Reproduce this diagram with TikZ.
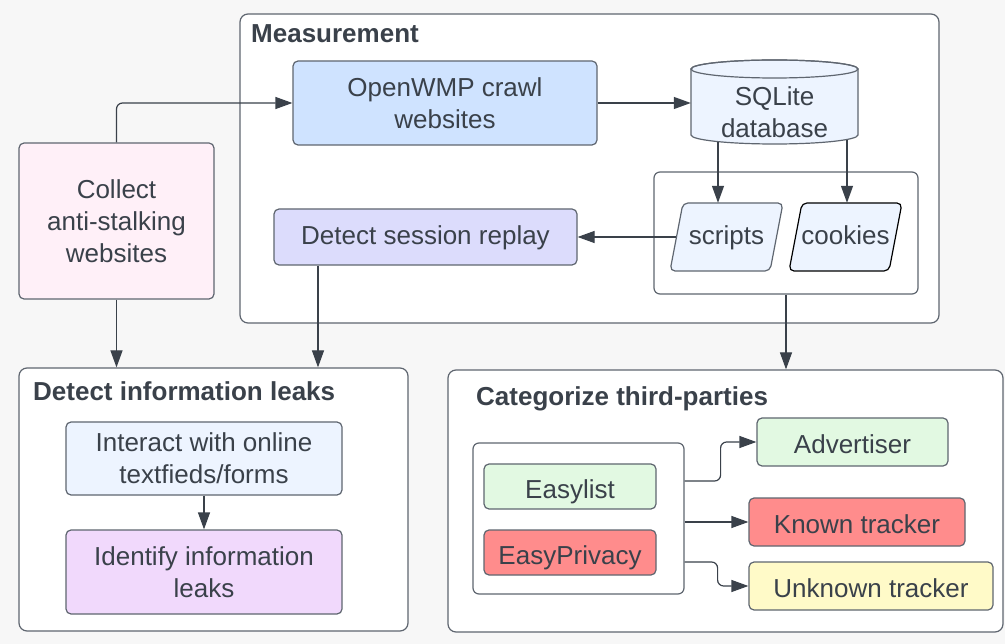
\documentclass[tikz,border=0pt]{standalone}
\usepackage{fontspec}
\setmainfont{Liberation Sans}
\usetikzlibrary{arrows.meta}
\definecolor{ink}{HTML}{3A414A}
\definecolor{edge}{HTML}{5F6670}
\definecolor{paper}{HTML}{F7F7F7}
\definecolor{pinkbg}{HTML}{FFF0F8}
\definecolor{crawlblue}{HTML}{CFE3FF}
\definecolor{paleblue}{HTML}{EDF4FF}
\definecolor{lavender}{HTML}{DCDCFC}
\definecolor{lilac}{HTML}{F1D9FC}
\definecolor{mint}{HTML}{E2F9E2}
\definecolor{salmon}{HTML}{FF8C8C}
\definecolor{cream}{HTML}{FFFAC8}

\tikzset{
  every node/.style={font=\fontsize{26}{32}\selectfont, text=ink},
  box/.style={draw=edge, line width=1.2pt, rounded corners=5pt, align=center, inner sep=0pt},
  oneline/.style={text height=23pt, text depth=0pt},
  group/.style={draw=edge, line width=1.2pt, rounded corners=8pt, fill=white, inner sep=0pt},
  heading/.style={font=\bfseries\fontsize{26}{32}\selectfont, anchor=west, inner sep=0pt, text depth=0pt},
  filelabel/.style={inner sep=0pt, minimum width=113pt, minimum height=68pt, text height=16pt, text depth=0pt},
  arr/.style={-{Triangle[length=17pt,width=12pt]}, line width=1.2pt, draw=ink},
}

% slanted data box centred at (#1,#2)
\newcommand{\slantbox}[3]{%
  \draw[edge, fill=paleblue, line width=1.2pt, rounded corners=5pt, #3]
    (#1-56.5,#2+34) -- (#1-43.5,#2-34) -- (#1+56.5,#2-34) -- (#1+43.5,#2+34) -- cycle;}

\begin{document}
\begin{tikzpicture}[x=1pt, y=-1pt]
% page and background
\useasboundingbox (0,0) rectangle (1005,644);
\fill[paper] (0,0) rectangle (1005,644);

% Groups
\node[group, minimum width=699pt, minimum height=309pt] (measure) at (589.5,168.5) {};
\node[group, minimum width=389pt, minimum height=263pt] (leaks) at (213.5,499.5) {};
\node[group, minimum width=555pt, minimum height=262pt] (cat) at (725.5,501) {};
\node[heading] (measuretitle) at (251,34) {Measurement};
\node[heading] (leakstitle) at (33,391) {Detect information leaks};
\node[heading] (cattitle) at (476,396) {Categorize third-parties};

% Collection and crawling
\node[box, fill=pinkbg, minimum width=195pt, minimum height=156pt] (collect) at (116.5,221) {Collect\\anti-stalking\\websites};
\node[box, fill=crawlblue, minimum width=304pt, minimum height=84pt] (crawl) at (445,103) {OpenWMP crawl\\websites};

% SQLite cylinder
\draw[edge, fill=paleblue, line width=1.2pt] (691,69) -- (691,135)
  arc[start angle=180, end angle=360, x radius=83.5pt, y radius=9pt] -- (858,69)
  arc[start angle=0, end angle=180, x radius=83.5pt, y radius=9pt] -- cycle;
\draw[edge, line width=1.2pt] (774.5,69) ellipse [x radius=83.5pt, y radius=9pt];
\node[align=center, inner sep=0pt, minimum width=167pt, minimum height=66pt] (db) at (774.5,112) {SQLite\\database};

% Scripts and cookies
\node[group, rounded corners=6pt, minimum width=264pt, minimum height=122pt] (files) at (786,233) {};
\slantbox{726.5}{237}{}
\slantbox{845.5}{237}{draw=black}
\node[filelabel] (scripts) at (726.5,237) {scripts};
\node[filelabel] (cookies) at (845.5,237) {cookies};
\node[box, fill=lavender, minimum width=303pt, minimum height=56pt, text height=16pt, text depth=0pt] (replay) at (425.5,237) {Detect session replay};

% Information leaks
\node[box, fill=paleblue, minimum width=276pt, minimum height=73pt] (interact) at (204,458.5) {Interact with online\\textfieds/forms};
\node[box, fill=lilac, minimum width=276pt, minimum height=84pt] (identify) at (204,572) {Identify information\\leaks};

% Third-party lists and categories
\node[group, rounded corners=6pt, minimum width=211pt, minimum height=151pt] (lists) at (578.5,518.5) {};
\node[box, oneline, fill=mint, minimum width=172pt, minimum height=45pt] (easylist) at (570,486.5) {Easylist};
\node[box, oneline, fill=salmon, minimum width=172pt, minimum height=45pt] (easyprivacy) at (570,552.5) {EasyPrivacy};
\node[box, oneline, fill=mint, minimum width=191pt, minimum height=48pt] (advertiser) at (852.5,442) {Advertiser};
\node[box, oneline, fill=salmon, minimum width=216pt, minimum height=48pt] (known) at (857,522) {Known tracker};
\node[box, oneline, fill=cream, minimum width=244pt, minimum height=48pt] (unknown) at (871,586) {Unknown tracker};

% Arrows
\draw[arr, rounded corners=6pt] (collect.north) |- (crawl.west);
\draw[arr] (crawl.east) -- (crawl.east -| db.west);
\draw[arr] ([xshift=-56.5pt,yshift=3pt]db.south) -- ([xshift=-56.5pt]db.south |- scripts.north);
\draw[arr] ([xshift=72.5pt,yshift=5.5pt]db.south) -- ([xshift=72.5pt]db.south |- cookies.north);
\draw[arr] ([xshift=6.5pt]scripts.west) -- (replay.east);
\draw[arr] ([xshift=-107.5pt]replay.south) -- ([xshift=-107.5pt]replay.south |- leaks.north);
\draw[arr] (collect.south) -- (collect.south |- leaks.north);
\draw[arr] (files.south) -- (files.south |- cat.north);
\draw[arr] (interact.south) -- (identify.north);
\draw[arr, rounded corners=6pt] ([yshift=37.5pt]lists.east) -- ++(36,0) |- (advertiser.west);
\draw[arr] (lists.east |- known.west) -- (known.west);
\draw[arr, rounded corners=6pt] ([yshift=-43.5pt]lists.east) -- ++(33,0) |- (unknown.west);
\end{tikzpicture}
\end{document}
